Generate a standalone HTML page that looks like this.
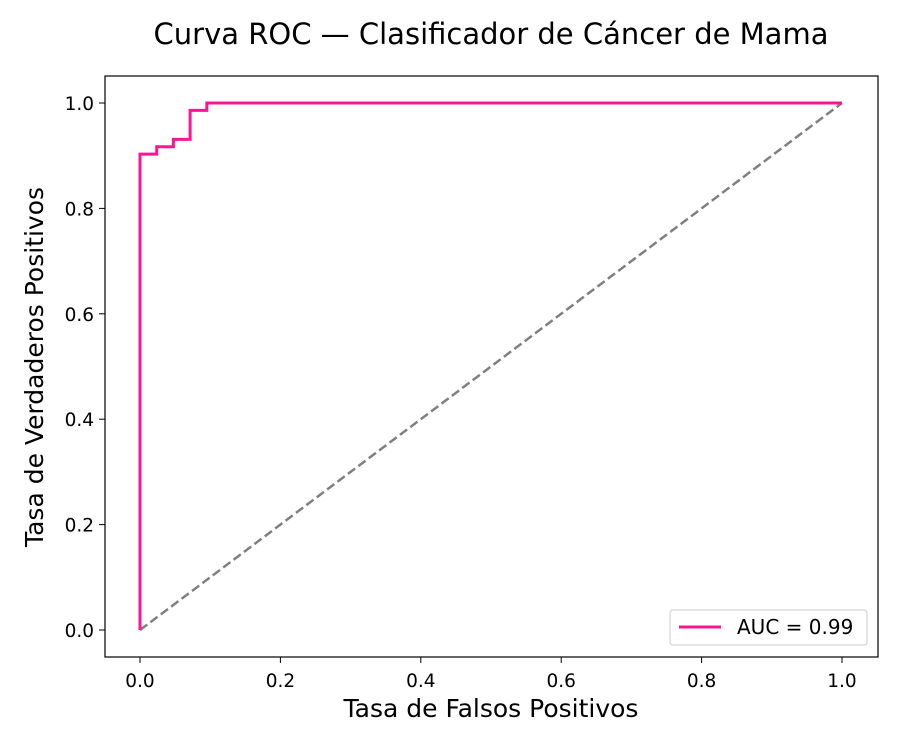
<!DOCTYPE html>
<html><head><meta charset="utf-8"><style>body{margin:0;background:#fff}svg{font-family:"DejaVu Sans","Liberation Sans",sans-serif}</style></head>
<body>
<svg id="chart" width="900" height="750" xmlns="http://www.w3.org/2000/svg">
<rect width="900" height="750" fill="#fff"/>
<text x="491" y="44" font-size="29" text-anchor="middle">Curva ROC — Clasificador de Cáncer de Mama</text>
<g id="plot"></g>
<rect x="105" y="76" width="773" height="581" fill="none" stroke="#000" stroke-width="1.2"/>
<text x="491" y="717" font-size="25" text-anchor="middle">Tasa de Falsos Positivos</text>
<text transform="translate(43,367) rotate(-90)" font-size="25" text-anchor="middle">Tasa de Verdaderos Positivos</text>
<g>
<rect x="670" y="610" width="197" height="35" fill="#fff" stroke="#ccc" rx="3"/>
<line x1="679" y1="627" x2="721" y2="627" stroke="#ff1493" stroke-width="3"/>
<text x="737" y="634" font-size="20">AUC = 0.99</text>
</g>
</svg>
<script>
const fpr = [0, 0, 0.0238, 0.0238, 0.0476, 0.0476, 0.0714, 0.0714, 0.0952, 0.0952, 1];
const tpr = [0, 0.903, 0.903, 0.917, 0.917, 0.931, 0.931, 0.986, 0.986, 1, 1];
const ticks = [0, 0.2, 0.4, 0.6, 0.8, 1.0];
const tickLabels = ["0.0", "0.2", "0.4", "0.6", "0.8", "1.0"];
const X = v => 140 + v * 702;
const Y = v => 630 - v * 527;
const NS = "http://www.w3.org/2000/svg";
const g = document.getElementById('plot');
function mk(t, a) { const e = document.createElementNS(NS, t); for (const k in a) e.setAttribute(k, a[k]); g.appendChild(e); return e; }
ticks.forEach((t, i) => {
  let l = mk('line', {x1: X(t), x2: X(t), y1: 657, y2: 663, stroke: '#000'});
  
  
  let tx = mk('text', {x: X(t), y: 687, 'font-size': 18.5, 'text-anchor': 'middle'});
  tx.textContent = tickLabels[i];
  
  
  let l2 = mk('line', {x1: 99, x2: 105, y1: Y(t), y2: Y(t), stroke: '#000'});
  
  
  let ty = mk('text', {x: 94, y: Y(t) + 7, 'font-size': 18.5, 'text-anchor': 'end'});
  ty.textContent = tickLabels[i];
  
  
});
let d = mk('line', {x1: X(0), y1: Y(0), x2: X(1), y2: Y(1), stroke: '#808080', 'stroke-width': 2.5, 'stroke-dasharray': '9,4'});


let p = mk('polyline', {points: fpr.map((f, i) => X(f) + ',' + Y(tpr[i])).join(' '), fill: 'none', stroke: '#ff1493', 'stroke-width': 3});


</script>
</body></html>
